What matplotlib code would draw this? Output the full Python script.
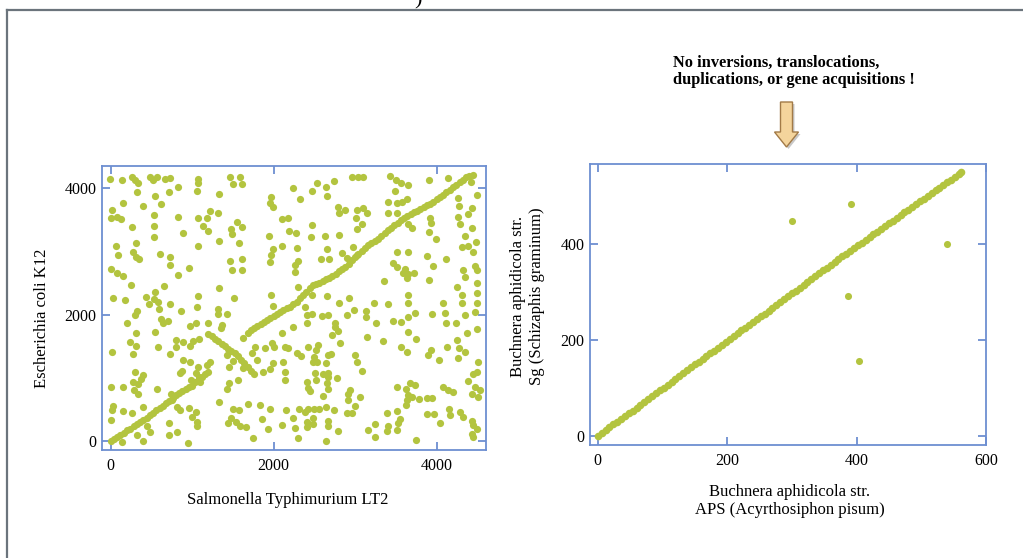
import matplotlib
matplotlib.use("Agg")
import matplotlib.pyplot as plt
from matplotlib.patches import Polygon
from matplotlib.lines import Line2D

plt.rcParams['font.family'] = ['Liberation Serif', 'DejaVu Serif']

# ---------------- data: left panel (Salmonella LT2 vs E. coli K12) ----------------
# collinear block 1
syn1_x = [0, 40, 80, 120, 160, 200, 240, 280, 320, 360, 400, 440, 480, 520, 560, 600, 640, 680,
          720, 760, 800, 840, 880, 920, 960, 1000, 1040, 1080, 1120, 1160, 1200]
syn1_y = [0, 30, 60, 100, 130, 170, 200, 240, 270, 300, 330, 370, 410, 450, 490, 530, 560, 600,
          640, 690, 730, 760, 790, 820, 850, 880, 930, 980, 1020, 1060, 1100]
# inverted block
inv_x = [1200, 1240, 1280, 1320, 1360, 1400, 1440, 1480, 1520, 1560, 1600, 1640, 1680, 1720, 1760]
inv_y = [1700, 1660, 1620, 1580, 1540, 1500, 1460, 1420, 1390, 1350, 1290, 1230, 1170, 1110, 1060]
# collinear block 2
syn2_x = [1680, 1720, 1760, 1800, 1840, 1880, 1920, 1960, 2000, 2040, 2080, 2120, 2160, 2200, 2240,
          2280, 2320, 2360, 2400, 2440, 2480, 2520, 2560, 2600, 2640, 2680, 2720, 2760, 2800, 2840,
          2880, 2920, 2960, 3000, 3040, 3080, 3120, 3160, 3200, 3240, 3280, 3320, 3360, 3400, 3440,
          3480, 3520, 3560, 3600, 3640, 3680, 3720, 3760, 3800, 3840, 3880, 3920, 3960, 4000, 4040,
          4080, 4120, 4160, 4200, 4240, 4280, 4320, 4360, 4400, 4440]
syn2_y = [1720, 1760, 1790, 1820, 1850, 1880, 1920, 1950, 1980, 2010, 2040, 2070, 2100, 2130, 2170,
          2210, 2260, 2310, 2360, 2420, 2470, 2490, 2510, 2530, 2560, 2590, 2620, 2650, 2690, 2720,
          2750, 2800, 2860, 2910, 2960, 3010, 3060, 3100, 3140, 3170, 3200, 3240, 3290, 3340, 3380,
          3420, 3460, 3500, 3530, 3560, 3590, 3620, 3650, 3680, 3710, 3730, 3760, 3790, 3830, 3870,
          3900, 3940, 3980, 4020, 4060, 4100, 4140, 4180, 4200, 4210]

# scattered (non-syntenic) genes, by region
scatter_nw = [(-10,4143),(135,4133),(257,4185),(298,4133),(339,4080),(482,4185),(523,4133),(564,4185),
    (666,4143),(728,4159),(1075,4143),(1075,4080),(1464,4175),(1587,4175),(1505,4069),(1607,4069),
    (319,3948),(715,3937),(822,4017),(1063,3959),(1329,3911),(544,3879),(147,3763),(392,3721),
    (617,3753),(1967,3869),(1955,3774),(1987,3700),(12,3658),(4,3526),(73,3542),(126,3510),(531,3574),
    (830,3542),(1067,3537),(1186,3526),(1218,3647),(1321,3616),(257,3394),(535,3405),(1128,3405),
    (1198,3331),(1476,3357),(1492,3278),(1546,3463),(1615,3384),(531,3225),(891,3289),(1942,3247),
    (1329,3173),(1574,3130),(61,3088),(310,3130),(1075,3088),(1996,3041),(94,2941),(270,2993),
    (310,2909),(347,2877),(605,2956),(728,2920),(1971,2946),(1464,2856),(1615,2877),(1959,2835),
    (728,2782),(4,2730),(73,2666),(147,2614),(965,2740),(822,2635),(1484,2709),(1607,2703),(249,2471),
    (654,2455),(544,2366),(1329,2419),(32,2271),(180,2234),(429,2287),(535,2244),(1075,2297),
    (1509,2266),(1967,2313)]
scatter_sw = [(474,2171),(584,2208),(728,2165),(1063,2129),(1987,2139),(319,2065),(298,1997),(597,2086),
    (858,2065),(1321,2086),(1321,2012),(1423,2012),(196,1875),(613,1928),(638,1865),(707,1907),
    (973,1823),(1047,1875),(1198,1875),(1362,1838),(1349,1786),(306,1717),(544,1722),(237,1575),
    (306,1511),(270,1380),(12,1417),(584,1485),(801,1601),(883,1575),(801,1496),(973,1506),(1006,1591),
    (1083,1612),(728,1374),(1627,1627),(1775,1485),(1738,1390),(1893,1469),(1975,1548),(2008,1485),
    (891,1285),(973,1258),(871,1116),(1075,1179),(1178,1206),(1218,1258),(1047,1084),(1088,1021),
    (981,968),(1096,942),(850,1084),(1423,1364),(1505,1274),(1456,1179),(1627,1153),(1791,1285),
    (1873,1100),(1955,1137),(1996,1242),(0,863),(147,863),(298,1100),(400,1047),(270,942),(368,979),
    (339,905),(286,810),(339,747),(564,821),(32,557),(12,494),(147,483),(0,335),(400,546),(736,747),
    (748,652),(818,546),(850,494),(965,520),(1047,467),(993,378),(1063,309),(1055,240),(1456,916),
    (1431,821),(1566,968),(1329,625),(1689,583),(1832,573),(1955,504),(1505,504),(1578,494),(1472,362),
    (1537,309),(1587,240),(1660,219),(1443,293),(1861,351),(1934,188),(1750,45),(441,240),(482,151),
    (392,8),(319,98),(719,98),(715,283),(809,151),(953,-23),(135,-7),(257,441)]
scatter_ne = [(2241,4001),(2466,3964),(2527,4090),(2641,4027),(2740,4117),(2658,3879),(2322,3827),
    (2956,4175),(3038,4175),(3100,4175),(3427,4196),(3500,4133),(3558,4090),(3643,4053),(3488,3964),
    (3905,4133),(4142,4159),(4416,4106),(4490,3895),(3406,3784),(3509,3763),(3570,3790),(3631,3827),
    (4265,3842),(4277,3721),(4429,3684),(3406,3616),(3517,3616),(2793,3711),(2875,3658),(2805,3616),
    (3026,3658),(3091,3695),(3149,3605),(3010,3526),(3079,3436),(3018,3357),(2097,3510),(2179,3526),
    (2466,3415),(2192,3331),(2273,3299),(2453,3236),(2629,3247),(2805,3262),(3652,3436),(3693,3368),
    (3918,3526),(3926,3447),(3909,3315),(3991,3199),(4265,3542),(4286,3436),(4388,3595),(4429,3368),
    (4347,3247),(4482,3157),(4306,3078),(4388,3088),(4449,2999),(2097,3088),(2290,3051),(2650,3036),
    (2969,3067),(2834,2983),(2895,2904),(3018,2946),(2576,2877),(2682,2877),(2302,2856),(2261,2788),
    (2261,2682),(3509,2999),(3652,2999),(3877,2930),(4110,2883),(3468,2825),(3509,2751),(3958,2777),
    (3615,2719),(3582,2656),(3652,2645),(3631,2587),(3725,2656),(3353,2540),(3901,2550),(4327,2709),
    (4470,2772),(4490,2709),(4347,2593),(4490,2498),(2302,2434),(2466,2313),(2650,2297),(2928,2260),
    (3652,2313),(4245,2434),(4306,2313),(4490,2339)]
scatter_se = [(2384,2129),(2404,1997),(2466,2012),(2588,1981),(2670,1997),(2404,1865),(2752,1875),
    (2752,1812),(2793,1749),(2711,1680),(2813,1559),(2895,1997),(2985,2076),(3132,2065),(3132,1970),
    (3255,1865),(3459,1907),(3558,1886),(3643,1960),(2805,2192),(3234,2192),(3398,2171),(3652,2192),
    (3733,2034),(3938,2012),(4081,2192),(4102,2023),(4114,1865),(4237,1865),(4306,2192),(4347,1997),
    (4470,2049),(4490,2192),(2232,1812),(2097,1717),(3140,1643),(3345,1591),(3558,1496),(3631,1411),
    (3746,1612),(3643,1733),(3926,1443),(3897,1364),(4032,1285),(4122,1496),(4245,1601),(4277,1469),
    (4347,1417),(4265,1311),(4376,1717),(4498,1770),(4502,1258),(2138,1496),(2179,1469),(2282,1390),
    (2331,1348),(2425,1496),(2547,1522),(2519,1443),(2494,1337),(2486,1258),(2535,1258),(2662,1364),
    (2699,1374),(2641,1232),(2506,1084),(2519,968),(2609,1063),(2670,1084),(2662,1010),(2404,942),
    (2445,799),(2425,836),(2650,926),(2670,821),(2609,715),(2772,1005),(2997,1364),(3018,1258),
    (3079,1116),(2110,1258),(2138,1100),(2138,968),(2936,810),(2915,747),(2915,652),(2997,557),
    (3059,705),(2956,441),(2895,441),(3509,852),(3623,821),(3672,915),(3733,889),(3643,731),(3693,705),
    (3631,652),(3787,668),(3877,689),(3938,678),(3623,573),(4081,852),(4142,810),(4196,773),(4380,952),
    (4441,1063),(4490,1100),(4470,852),(4531,810),(4429,747),(4511,705),(2151,494),(2314,504),
    (2384,467),(2425,504),(2494,504),(2560,504),(2641,536),(2744,494),(2404,309),(2404,230),(2486,362),
    (2486,272),(2670,325),(2670,240),(2241,362),(2261,204),(2302,56),(2641,8),(2793,167),(2097,256),
    (3161,177),(3243,267),(3243,72),(3386,441),(3509,483),(3549,346),(3529,293),(3398,240),(3394,161),
    (3509,177),(3746,19),(3877,425),(3967,425),(4040,293),(4155,504),(4163,414),(4286,467),(4327,378),
    (4429,325),(4449,256),(4490,188),(4429,114),(4449,72)]

left_ticks = [0, 2000, 4000]

# ---------------- data: right panel (Buchnera APS vs Sg) ----------------
aps_x = [0, 6, 12, 18, 24, 30, 36, 42, 48, 54, 60, 66, 72, 78, 84, 90, 96, 102, 108, 114, 120, 126,
         132, 138, 144, 150, 156, 162, 168, 174, 180, 186, 192, 198, 204, 210, 216, 222, 228, 234,
         240, 246, 252, 258, 264, 270, 276, 282, 288, 294, 300, 306, 312, 318, 324, 330, 336, 342,
         348, 354, 360, 366, 372, 378, 384, 390, 396, 402, 408, 414, 420, 426, 432, 438, 444, 450,
         456, 462, 468, 474, 480, 486, 492, 498, 504, 510, 516, 522, 528, 534, 540, 546, 552, 558, 562]
sg_y = [0, 6, 12, 18, 24, 30, 36, 42, 48, 53, 59, 65, 71, 77, 83, 89, 95, 101, 107, 113, 119, 125,
        131, 137, 143, 149, 154, 160, 166, 172, 178, 184, 190, 196, 202, 208, 214, 220, 226, 232,
        238, 244, 249, 255, 261, 267, 273, 279, 285, 291, 297, 303, 309, 315, 321, 327, 333, 339,
        345, 350, 356, 362, 368, 374, 380, 386, 391, 397, 402, 408, 414, 420, 425, 431, 437, 443,
        448, 454, 460, 466, 471, 477, 483, 489, 494, 500, 506, 512, 517, 523, 529, 534, 540, 546, 550]
outlier_x = [300, 392, 539, 387, 404]
outlier_y = [448, 483, 399, 292, 156]
right_xticks = [0, 200, 400, 600]
right_yticks = [0, 200, 400]

DOT = '#b3c43f'
SPINE = '#6d8fd1'
W, H = 1023, 558

fig = plt.figure(figsize=(W / 100, H / 100), dpi=100)
fig.patch.set_facecolor('white')


def style(ax):
    for s in ax.spines.values():
        s.set_color(SPINE)
        s.set_linewidth(1.3)
    ax.tick_params(direction='in', length=5.5, width=1.3, color=SPINE,
                   top=True, right=True, labelsize=11.5, labelcolor='black')
    ax.tick_params(axis='x', pad=6)
    ax.tick_params(axis='y', pad=4)


# left panel
axL = fig.add_axes([102.3 / W, 1 - 450 / H, 383.7 / W, 284.3 / H])
for seg_x, seg_y in [(syn1_x, syn1_y), (inv_x, inv_y), (syn2_x, syn2_y)]:
    axL.scatter(seg_x, seg_y, s=27, color=DOT, linewidths=0, zorder=3)
for grp in [scatter_nw, scatter_sw, scatter_ne, scatter_se]:
    gx, gy = zip(*grp)
    axL.scatter(gx, gy, s=27, color=DOT, linewidths=0, zorder=3)
axL.set_xlim(-103, 4605)
axL.set_ylim(-139, 4359)
axL.set_xticks(left_ticks)
axL.set_yticks(left_ticks)
style(axL)

# right panel
axR = fig.add_axes([590 / W, 1 - 445 / H, 396 / W, 281 / H])
axR.scatter(aps_x, sg_y, s=30, color=DOT, linewidths=0, zorder=3)
axR.scatter(outlier_x, outlier_y, s=26, color=DOT, linewidths=0, zorder=3)
axR.set_xlim(-12, 600)
axR.set_ylim(-18.75, 566.7)
axR.set_xticks(right_xticks)
axR.set_yticks(right_yticks)
style(axR)

# axis labels
fig.text(288 / W, 1 - 500 / H, 'Salmonella Typhimurium LT2', ha='center', va='center', fontsize=12)
fig.text(42 / W, 1 - 318 / H, 'Escherichia coli K12', ha='center', va='center',
         rotation=90, fontsize=12)
fig.text(790 / W, 1 - 501 / H, 'Buchnera aphidicola str.\nAPS (Acyrthosiphon pisum)',
         ha='center', va='center', fontsize=12, linespacing=1.15)
fig.text(527.5 / W, 1 - 296 / H, 'Buchnera aphidicola str.\nSg (Schizaphis graminum)',
         ha='center', va='center', rotation=90, fontsize=12, linespacing=1.2)

# annotation
fig.text(673 / W, 1 - 71 / H, 'No inversions, translocations,\nduplications, or gene acquisitions !',
         ha='left', va='center', fontsize=11.8, fontweight='bold', linespacing=1.1)


def fp(pts, dx=0, dy=0):
    return [((x + dx) / W, 1 - (y + dy) / H) for x, y in pts]


arrow_pts = [(780.5, 102), (792.5, 102), (792.5, 132), (798.5, 132), (786.5, 147),
             (774.5, 132), (780.5, 132)]
fig.patches.append(Polygon(fp(arrow_pts, 2, 2), closed=True, transform=fig.transFigure,
                           facecolor='#c8c8c8', edgecolor='none', zorder=1))
fig.patches.append(Polygon(fp(arrow_pts), closed=True, transform=fig.transFigure,
                           facecolor='#f4d49c', edgecolor='#a27a47', linewidth=1.0, zorder=2))

# slide frame and cut-off title fragment
fig.add_artist(Line2D([7 / W, 1], [1 - 10 / H, 1 - 10 / H], transform=fig.transFigure,
                      color='#6b747c', linewidth=1.6))
fig.add_artist(Line2D([7 / W, 7 / W], [1 - 10 / H, 0], transform=fig.transFigure,
                      color='#6b747c', linewidth=1.6))
fig.text(418 / W, 1 - 9 / H, ')', ha='center', va='bottom', fontsize=16)

fig.savefig('out.png', dpi=100)
